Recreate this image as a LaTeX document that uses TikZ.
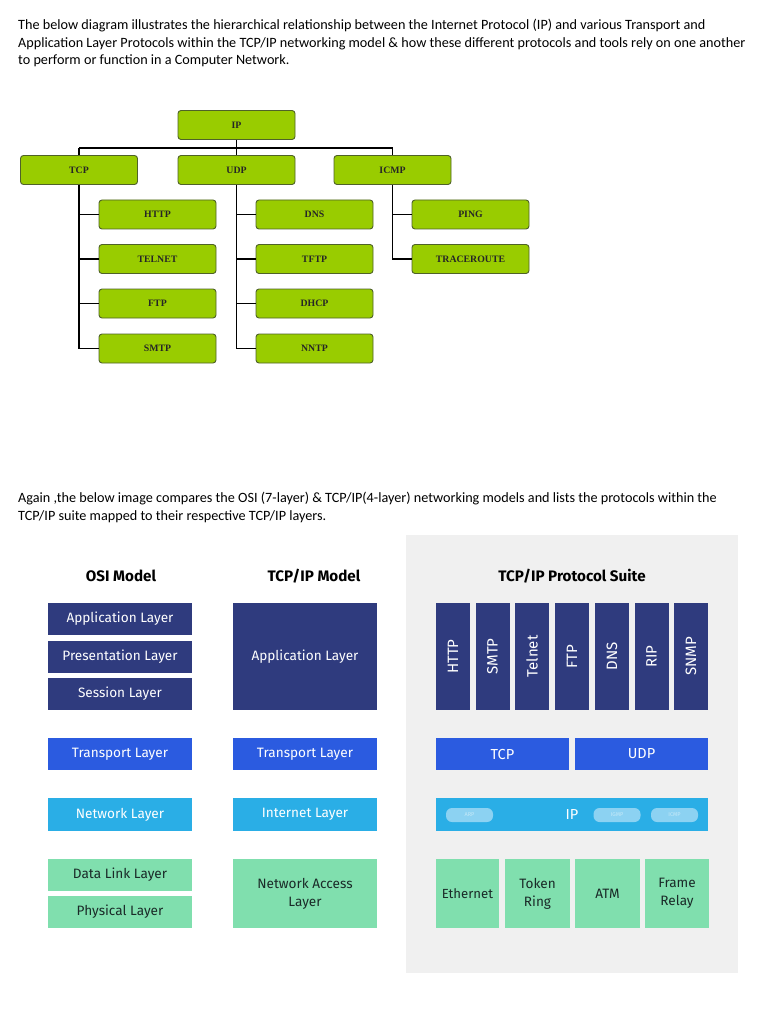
\documentclass[tikz,border=0pt]{standalone}
\usepackage{fontspec}
\setmainfont{Carlito}
\newfontfamily\treefont{Liberation Serif}
\newfontfamily\diafont{Fira Sans}
\definecolor{lgreen}{HTML}{99CC00}
\definecolor{dgreen}{HTML}{4F6228}
\definecolor{navy}{HTML}{2F3B7E}
\definecolor{tblue}{HTML}{2B5BE0}
\definecolor{ncyan}{HTML}{2AAEE6}
\definecolor{mint}{HTML}{80DFAE}
\definecolor{panel}{HTML}{F0F0F0}
\definecolor{pill}{HTML}{8CD2F2}
\definecolor{pilltext}{HTML}{C5E9F8}
\definecolor{minttext}{HTML}{1A2A28}
\begin{document}
\begin{tikzpicture}[x=1pt,y=-1pt,
  tbox/.style={draw=dgreen,fill=lgreen,line width=0.9pt,rounded corners=3pt,
    minimum width=117pt,minimum height=29pt,inner sep=0pt,
    font=\treefont\bfseries\fontsize{9.8}{11}\selectfont,text=black!85},
  tline/.style={line width=1.8pt,black},
  para/.style={anchor=north west,inner sep=0pt,align=left,
    font=\fontsize{14.2}{17.6}\selectfont},
  ttl/.style={font=\diafont\bfseries\fontsize{15.2}{17}\selectfont,inner sep=0pt},
  lay/.style={inner sep=0pt,text=white,align=center,
    font=\diafont\fontsize{13.6}{18}\selectfont},
  mlay/.style={lay,fill=mint,text=minttext},
  pillst/.style={fill=pill,rounded corners=6pt,minimum width=47pt,minimum height=14pt,
    inner sep=0pt,text=pilltext,font=\diafont\fontsize{5.5}{6}\selectfont}
]
\useasboundingbox (0,0) rectangle (768,1024);
\fill[white] (0,0) rectangle (768,1024);

% paragraphs
\node[para] (p1) at (18,19) {The below diagram illustrates the hierarchical relationship between the Internet Protocol (IP) and various Transport and\\
Application Layer Protocols within the TCP/IP networking model \& how these different protocols and tools rely on one another\\
to perform or function in a Computer Network.};
\node[para] (p2) at (18,492) {Again ,the below image compares the OSI (7-layer) \& TCP/IP(4-layer) networking models and lists the protocols within the\\
TCP/IP suite mapped to their respective TCP/IP layers.};

% tree
\node[tbox] (IP) at (236.5,125) {IP};
\node[tbox] (TCP) at (79,170) {TCP};
\node[tbox] (UDP) at (236.5,170) {UDP};
\node[tbox] (ICMP) at (392.5,170) {ICMP};
\node[tbox] (HTTP) at (157.5,214.5) {HTTP};
\node[tbox] (TELNET) at (157.5,259) {TELNET};
\node[tbox] (FTP) at (157.5,303.5) {FTP};
\node[tbox] (SMTP) at (157.5,348.5) {SMTP};
\node[tbox] (DNS) at (314.5,214.5) {DNS};
\node[tbox] (TFTP) at (314.5,259) {TFTP};
\node[tbox] (DHCP) at (314.5,303.5) {DHCP};
\node[tbox] (NNTP) at (314.5,348.5) {NNTP};
\node[tbox] (PING) at (470.5,214.5) {PING};
\node[tbox] (TRACE) at (470.5,259) {TRACEROUTE};
\coordinate (bus) at (0,148);
\draw[tline] (TCP.north |- bus) -- (ICMP.north |- bus);
\draw[tline] (TCP.north |- bus) -- (TCP.north);
\draw[tline] (IP.south) -- (UDP.north);
\draw[line width=1.2pt] (ICMP.north |- bus) -- (ICMP.north);
\draw[tline] (TCP.south) -- (TCP.south |- SMTP.west) -- (SMTP.west);
\draw[tline] (TCP.south |- HTTP.west) -- (HTTP.west);
\draw[tline] (TCP.south |- TELNET.west) -- (TELNET.west);
\draw[tline] (TCP.south |- FTP.west) -- (FTP.west);
\draw[tline] (UDP.south) -- (UDP.south |- NNTP.west) -- (NNTP.west);
\draw[tline] (UDP.south |- DNS.west) -- (DNS.west);
\draw[tline] (UDP.south |- TFTP.west) -- (TFTP.west);
\draw[tline] (UDP.south |- DHCP.west) -- (DHCP.west);
\draw[line width=1.2pt] (ICMP.south) -- (ICMP.south |- TRACE.west) -- (TRACE.west);
\draw[line width=1.2pt] (ICMP.south |- PING.west) -- (PING.west);

% panel
\fill[panel] (406,535) rectangle (738,973);

% titles
\node[ttl] (t1) at (121,576) {OSI Model};
\node[ttl] (t2) at (314,576) {TCP/IP Model};
\node[ttl] (t3) at (572,576) {TCP/IP Protocol Suite};

% OSI column
\node[lay,fill=navy,minimum width=144pt,minimum height=32pt] (oapp) at (120,619) {Application Layer};
\node[lay,fill=navy,minimum width=144pt,minimum height=32pt] (opre) at (120,657) {Presentation Layer};
\node[lay,fill=navy,minimum width=144pt,minimum height=32pt] (oses) at (120,694) {Session Layer};
\node[lay,fill=tblue,minimum width=144pt,minimum height=32pt] (otra) at (120,754) {Transport Layer};
\node[lay,fill=ncyan,minimum width=144pt,minimum height=33pt] (onet) at (120,814.5) {Network Layer};
\node[mlay,minimum width=144pt,minimum height=32pt] (odl) at (120,875) {Data Link Layer};
\node[mlay,minimum width=144pt,minimum height=32pt] (ophy) at (120,912) {Physical Layer};

% TCP/IP column
\node[lay,fill=navy,minimum width=144pt,minimum height=107pt] (tapp) at (305,656.5) {Application Layer};
\node[lay,fill=tblue,minimum width=144pt,minimum height=32pt] (ttra) at (305,754) {Transport Layer};
\node[lay,fill=ncyan,minimum width=144pt,minimum height=33pt] (tint) at (305,814.5) {Internet Layer};
\node[mlay,minimum width=144pt,minimum height=69pt] (tna) at (305,893.5) {Network Access\\Layer};

% suite
\foreach \n/\x in {HTTP/453,SMTP/492.5,Telnet/532,FTP/572,DNS/612,RIP/651.5,SNMP/691}{
  \node[lay,fill=navy,minimum width=34pt,minimum height=107pt] (s\n) at (\x,656.5) {};
  \node[lay,rotate=90,font=\diafont\fontsize{15}{18}\selectfont] (l\n) at (s\n.center) {\n};
}
\node[lay,fill=tblue,minimum width=133pt,minimum height=32pt,font=\diafont\fontsize{14.5}{18}\selectfont] (sTCP) at (502.5,754) {TCP};
\node[lay,fill=tblue,minimum width=133pt,minimum height=32pt,font=\diafont\fontsize{14.5}{18}\selectfont] (sUDP) at (641.5,754) {UDP};
\node[lay,fill=ncyan,minimum width=272pt,minimum height=33pt] (sIP) at (572,814.5) {};
\node[lay,font=\diafont\fontsize{14.5}{18}\selectfont] (sIPt) at (572,814.5) {IP};
\node[pillst] (ARP) at (469.5,815) {ARP};
\node[pillst] (IGMP) at (617,815) {IGMP};
\node[pillst] (ICMPp) at (674.5,815) {ICMP};
\node[mlay,minimum width=63pt,minimum height=69pt,font=\diafont\fontsize{13.2}{18}\selectfont] (eth) at (467.5,893.5) {Ethernet};
\node[mlay,minimum width=65pt,minimum height=69pt,font=\diafont\fontsize{13.6}{18}\selectfont] (tok) at (537.5,893.5) {Token\\Ring};
\node[mlay,minimum width=65pt,minimum height=69pt,font=\diafont\fontsize{13.6}{18}\selectfont] (atm) at (607.5,893.5) {ATM};
\node[mlay,minimum width=64pt,minimum height=69pt,font=\diafont\fontsize{13.6}{18}\selectfont] (fr) at (677,893.5) {Frame\\Relay};
\end{tikzpicture}
\end{document}
